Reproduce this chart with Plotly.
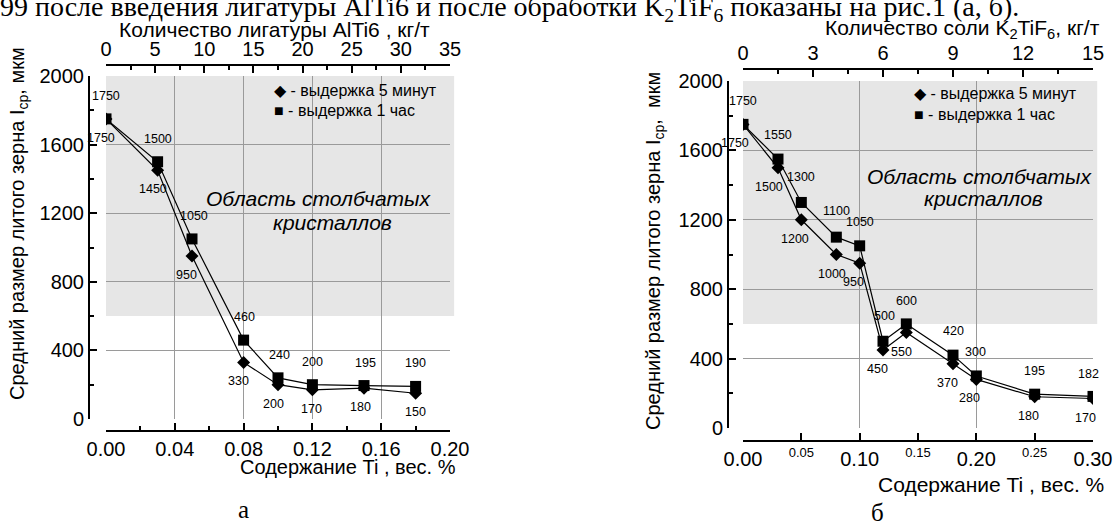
import plotly.graph_objects as go

W, H = 1116, 527

# ---------------- data ----------------
# (a) AlTi6 master alloy
ti_a = [0.00, 0.03, 0.05, 0.08, 0.10, 0.12, 0.15, 0.18]
grain_a_5min = [1750, 1450, 950, 330, 200, 170, 180, 150]
grain_a_1h = [1750, 1500, 1050, 460, 240, 200, 195, 190]

# (b) K2TiF6 salt
ti_b = [0.00, 0.03, 0.05, 0.08, 0.10, 0.12, 0.14, 0.18, 0.20, 0.25, 0.30]
grain_b_5min = [1750, 1500, 1200, 1000, 950, 450, 550, 370, 280, 180, 170]
grain_b_1h = [1750, 1550, 1300, 1100, 1050, 500, 600, 420, 300, 195, 182]

columnar_from = 600
y_range = [0, 2000]
x_range_a = [0, 0.20]
x_range_b = [0, 0.30]
top_range_a = [0, 35]
top_range_b = [0, 15]

big_ticks_b = [0.00, 0.10, 0.20, 0.30]
small_ticks_b = [0.05, 0.15, 0.25]

legend_5min = "◆ - выдержка 5 минут"
legend_1h = "■ - выдержка 1 час"

# label offsets (pixels) – style only
dx_a_1h = [0, 0, 2, 1, 1, 0, 1, 0]
dx_a_5m = [-5, -5, -6, -5, -5, -1, -4, 0]
dx_b_1h = [0, 0, 0, 0, 0, 1, 0, 0, -1, 0, -5]
dy_b_1h = [23, 24, 25, 26, 24, 25, 23, 24, 24, 23, 22]
dx_b_5m = [-8, -9, -6, -4, -6, -6, -5, -6, -7, -6, -8]

FONT = "Arial, Liberation Sans, sans-serif"
SERIF = "Times New Roman, Liberation Serif, serif"
GRID = "#9a9a9a"


def px_x(p):
    return p / W


def px_y(p):
    return (H - p) / H


fig = go.Figure()

line_style = dict(color="black", width=1.2)
for xs, ys, sym, sz, xa, ya in [
    (ti_a, grain_a_5min, "diamond", 10, "x", "y"),
    (ti_a, grain_a_1h, "square", 11, "x", "y"),
    (ti_b, grain_b_5min, "diamond", 10, "x2", "y2"),
    (ti_b, grain_b_1h, "square", 11, "x2", "y2"),
]:
    fig.add_trace(go.Scatter(x=xs, y=ys, mode="lines+markers", line=line_style,
                             marker=dict(symbol=sym, size=sz, color="black"),
                             xaxis=xa, yaxis=ya, showlegend=False, hoverinfo="skip"))

# empty traces so that the extra (overlay) axes are drawn
for xa, ya in [("x3", "y"), ("x4", "y2"), ("x5", "y2"), ("x6", "y2")]:
    fig.add_trace(go.Scatter(x=[], y=[], xaxis=xa, yaxis=ya, showlegend=False))

dom_xa = [px_x(106), px_x(450)]
dom_ya = [px_y(419), px_y(76)]
dom_xb = [px_x(743), px_x(1093)]
dom_yb = [px_y(428), px_y(81)]

tickfont = dict(family=FONT, size=20, color="black")
axis_line = dict(showline=True, linecolor="black", linewidth=2, ticks="inside",
                 ticklen=7, tickwidth=1.5, tickcolor="black", zeroline=False,
                 tickfont=tickfont, automargin=False)
minor_style = dict(ticks="inside", ticklen=4, tickcolor="black", tickwidth=1.5, showgrid=False)

fig.update_layout(
    width=W, height=H, margin=dict(l=0, r=0, t=0, b=0, autoexpand=False),
    paper_bgcolor="white", plot_bgcolor="white",
    font=dict(family=FONT, color="black"),
    # ---- left chart ----
    xaxis=dict(domain=dom_xa, range=x_range_a, anchor="free", position=px_y(431),
               tickmode="linear", tick0=0, dtick=0.04, tickformat=".2f",
               showgrid=True, gridcolor=GRID, gridwidth=1,
               minor=dict(dtick=0.02, **minor_style), **axis_line),
    yaxis=dict(domain=dom_ya, range=y_range, anchor="free", position=px_x(89),
               tickmode="linear", tick0=0, dtick=400,
               showgrid=True, gridcolor=GRID, gridwidth=1,
               minor=dict(dtick=200, **minor_style), **axis_line),
    xaxis3=dict(domain=dom_xa, range=top_range_a, overlaying="x", side="top",
                anchor="free", position=px_y(65), tickmode="linear", tick0=0, dtick=5,
                showgrid=False, minor=dict(dtick=2.5, **minor_style), **axis_line),
    # ---- right chart ----
    xaxis2=dict(domain=dom_xb, range=x_range_b, anchor="y2", tickmode="linear",
                tick0=0, dtick=0.1, showgrid=True, gridcolor=GRID, gridwidth=1,
                showticklabels=False, ticks="", showline=False, zeroline=False,
                automargin=False),
    yaxis2=dict(domain=dom_yb, range=y_range, anchor="free", position=px_x(728),
                tickmode="linear", tick0=0, dtick=400,
                showgrid=True, gridcolor=GRID, gridwidth=1,
                minor=dict(dtick=200, **minor_style), **axis_line),
    xaxis4=dict(domain=dom_xb, range=x_range_b, overlaying="x2", anchor="free",
                position=px_y(441), tickmode="array", tickvals=big_ticks_b,
                tickformat=".2f", showgrid=False,
                minor=dict(ticks="inside", ticklen=7, tickcolor="black", tickwidth=1.5,
                           showgrid=False, tickvals=small_ticks_b),
                **axis_line),
    xaxis6=dict(domain=dom_xb, range=x_range_b, overlaying="x2", anchor="free",
                position=px_y(441), tickmode="array", tickvals=small_ticks_b,
                tickformat=".2f", showgrid=False, showline=False, ticks="",
                zeroline=False, automargin=False, ticklabelstandoff=2,
                tickfont=dict(family=FONT, size=13, color="black")),
    xaxis5=dict(domain=dom_xb, range=top_range_b, overlaying="x2", side="top",
                anchor="free", position=px_y(69), tickmode="linear", tick0=0, dtick=3,
                showgrid=False, minor=dict(dtick=1.5, **minor_style), **axis_line),
)

# columnar crystal zone
for xr, yr in [("x", "y"), ("x2", "y2")]:
    fig.add_shape(type="rect", xref=f"{xr} domain", yref=yr, x0=0, x1=1.012,
                  y0=columnar_from, y1=y_range[1], fillcolor="#e6e6e6",
                  line=dict(width=0), layer="below")

# data labels
lab_font = dict(family=FONT, size=12.5, color="black")
for xs, ys, dxs, dys, xr, yr in [
    (ti_a, grain_a_1h, dx_a_1h, [23] * len(ti_a), "x", "y"),
    (ti_a, grain_a_5min, dx_a_5m, [-19] * len(ti_a), "x", "y"),
    (ti_b, grain_b_1h, dx_b_1h, dy_b_1h, "x2", "y2"),
    (ti_b, grain_b_5min, dx_b_5m, [-19] * len(ti_b), "x2", "y2"),
]:
    for xv, yv, dx, dy in zip(xs, ys, dxs, dys):
        fig.add_annotation(x=xv, y=yv, xref=xr, yref=yr, text=str(yv), showarrow=False,
                           xshift=dx, yshift=dy, font=lab_font)


def ann(text, x, y, size=20, family=FONT, xanchor="center", yanchor="middle", angle=0, **kw):
    fig.add_annotation(text=text, x=px_x(x), y=px_y(y), xref="paper", yref="paper",
                       showarrow=False, xanchor=xanchor, yanchor=yanchor, textangle=angle,
                       font=dict(family=family, size=size, color="black"), **kw)


# page text (cut off at the top of the scan)
ann("99 после введения лигатуры AlTi6 и после обработки K<sub>2</sub>TiF<sub>6</sub> показаны на рис.1 (а, б).",
    -2, 28, size=28, family=SERIF, xanchor="left", yanchor="bottom")

# axis titles
ann("Количество лигатуры AlTi6 , кг/т", 274, 30, size=21)
ann("Количество соли K<sub>2</sub>TiF<sub>6</sub>, кг/т", 1102, 29, size=21, xanchor="right")
ann("Содержание Ti , вес. %", 458, 467, size=20, xanchor="right")
ann("Содержание Ti , вес. %", 1106, 484, size=21, xanchor="right")
ann("Средний размер литого зерна I<sub>ср</sub>, мкм", 18, 224, size=20, angle=-90)
ann("Средний размер литого зерна I<sub>ср</sub>,  мкм", 654, 251, size=20, angle=-90)

# legends
ann(legend_5min, 272, 90, size=16, xanchor="left")
ann(legend_1h, 272, 111, size=16, xanchor="left")
ann(legend_5min, 912, 93, size=16, xanchor="left")
ann(legend_1h, 912, 114, size=16, xanchor="left")

# zone text
ann("<i>Область столбчатых</i>", 319, 198, size=21)
ann("<i>кристаллов</i>", 332, 222, size=21)
ann("<i>Область столбчатых</i>", 980, 177, size=21)
ann("<i>кристаллов</i>", 983, 199, size=21)

# sub-figure letters
ann("а", 243, 509, size=25, family=SERIF)
ann("б", 877, 512, size=25, family=SERIF)

fig.write_html("out.html", post_script="document.body.style.margin='0px';",
               config={"displayModeBar": False})
